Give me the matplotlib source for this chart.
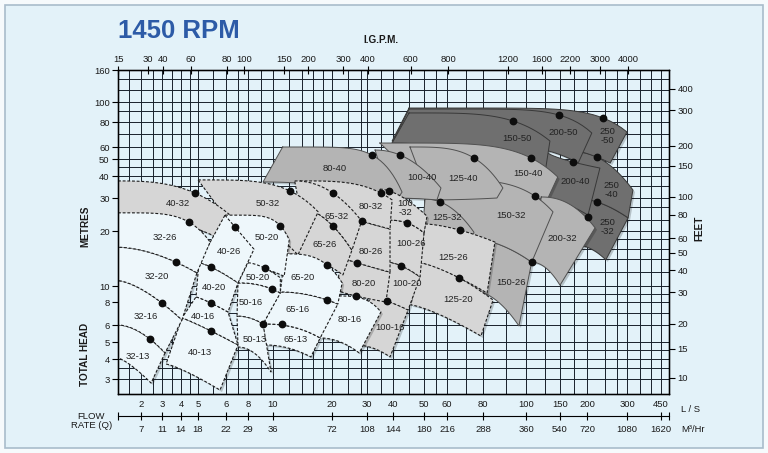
import numpy as np
import matplotlib
matplotlib.use('Agg')
import matplotlib.pyplot as plt
from matplotlib import transforms
from matplotlib.ticker import NullLocator

plt.rcParams['font.family'] = ['Liberation Sans', 'DejaVu Sans']

# flow (L/S) and head (m) scale of the printed chart: value -> position
X_KNOTS = [1.13, 2, 3, 4, 5, 6, 8, 10, 20, 30, 40, 50, 60, 80, 100, 150, 200, 300, 450, 500]
X_KNOT_POS = [118, 141, 162, 181, 198, 226, 248, 273, 332, 367, 393, 424, 447, 483, 526, 560, 587, 627, 661, 669]
Y_KNOTS = [2.42, 3, 4, 5, 6, 8, 10, 20, 30, 40, 50, 60, 80, 100, 160]
Y_KNOT_POS = [394, 379, 359, 342, 325, 302, 286, 231, 198, 176, 159, 147, 122, 102, 70]

LPS_TICKS = [2, 3, 4, 5, 6, 8, 10, 20, 30, 40, 50, 60, 80, 100, 150, 200, 300, 450]
M3HR_LABELS = [7, 11, 14, 18, 22, 29, 36, 72, 108, 144, 180, 216, 288, 360, 540, 720, 1080, 1620]
IGPM_TICKS = [15, 30, 40, 60, 80, 100, 150, 200, 300, 400, 600, 800, 1200, 1600, 2200, 3000, 4000]
METRE_TICKS = [3, 4, 5, 6, 8, 10, 20, 30, 40, 50, 60, 80, 100, 160]
FEET_TICKS = [10, 15, 20, 30, 40, 50, 60, 80, 100, 150, 200, 300, 400]

GRID_LPS = [1.5, 2, 2.5, 3, 3.5, 4, 4.5, 5, 5.5, 6, 7, 8, 9, 10, 12, 14, 16, 18, 20, 24, 28, 30, 35,
            40, 45, 50, 55, 60, 70, 80, 90, 100, 125, 150, 175, 200, 240, 270, 300, 350, 400, 450]
GRID_M = [3, 3.5, 4, 4.5, 5, 6, 7, 8, 9, 10, 12, 14, 16, 18, 20, 23, 27, 30, 35, 40, 45, 50, 60,
          70, 80, 90, 100, 120, 140]

# pump tiles, back to front: name, shade, top curve, bottom curve (L/S, m), duty point, label
TILE_NAMES = ['250\n-32', '250\n-40', '250\n-50', '200-40', '200-50', '150-50',
              '150-40', '200-32', '150-26', '150-32', '125-40', '125-32', '100-40', '80-40',
              '125-20', '125-26', '100-16', '100-20', '100-26', '100\n-32', '80-20', '80-26',
              '80-32', '65-26', '65-32', '50-32', '40-32',
              '80-16', '65-13', '65-16', '65-20', '50-20', '50-13', '50-16', '50-20',
              '40-13', '40-16', '40-20', '40-26', '32-13', '32-16', '32-20', '32-26']
TILE_SHADE = ['dark'] * 6 + ['mid'] * 8 + ['grey'] * 13 + ['light'] * 16

TILE_TOP = [
    [(176, 30), (221, 28.6), (304, 23.5)],
    [(176, 55.6), (221, 51.5), (322, 33.3)],
    [(44.9, 93.5), (235, 83.7), (300, 71.3)],
    [(125, 57.3), (172, 48.1), (228, 44.4)],
    [(44.9, 92.5), (148, 86.5), (210, 70.5)],
    [(44.9, 88.5), (93.5, 80.9), (133, 64.3)],
    [(34.6, 62.8), (106, 50.8), (146, 39.5)],
    [(120, 30.4), (186, 25.3), (217, 20.8)],
    [(56.8, 19), (87.4, 16.8), (107, 13.5)],
    [(56.8, 38), (111, 30.8), (138, 25.3)],
    [(45.2, 60), (74.4, 50.8), (88.7, 34.2)],
    [(50.4, 29.6), (56.8, 28.6), (74.4, 19.7)],
    [(32.8, 57.3), (42.1, 53.1), (57.2, 34.2)],
    [(11.2, 60), (31.7, 53.1), (42.7, 32.4)],
    [(48.6, 13.4), (66, 11.1), (84.3, 8.23)],
    [(50.4, 21.8), (66.6, 20.2), (85.1, 17.4)],
    [(31, 8.46), (37.4, 8.11), (44.6, 7.24)],
    [(37.8, 13.5), (42.4, 12.9), (48.6, 11.2)],
    [(36.6, 22.9), (44.2, 22.1), (50, 19.5)],
    [(34.6, 33.7), (38.3, 32.9), (51.2, 24)],
    [(21.9, 14.4), (26.7, 13.4), (38.7, 11.9)],
    [(21.9, 25.3), (28.2, 22.6), (38.7, 20.5)],
    [(13.7, 37.5), (35, 32), (39.6, 29.3)],
    [(13.7, 26.5), (20.2, 21.3), (25.2, 15.7)],
    [(12.9, 37.5), (20.2, 32), (28.2, 22.6)],
    [(5, 38), (12.2, 32.9), (17, 25.3)],
    [(1.13, 37.5), (4.81, 32), (6.24, 24.6)],
    [(20.5, 8.7), (26.4, 8.58), (35, 7.06)],
    [(9.15, 6.08), (11.1, 6), (17.4, 5.22)],
    [(10.9, 9.2), (18.9, 8.23), (21.4, 7.8)],
    [(11.5, 15), (18.9, 13), (22.5, 10.4)],
    [(5.96, 24.3), (10.9, 21.3), (12.1, 17.9)],
    [(6.93, 6.71), (9.15, 6.08)],
    [(7.02, 10.4), (9.91, 9.59), (10.9, 9.07)],
    [(8, 13.4), (9.31, 12.5), (10.9, 11.1)],
    [(4.05, 6.55), (5.44, 5.63), (7.02, 4.81)],
    [(4.87, 8.58), (5.44, 7.9), (6.16, 7.06)],
    [(5.03, 13.4), (5.44, 12.7), (7.02, 10.4)],
    [(5.96, 24.3), (6.75, 21), (8.44, 15.9)],
    [(1.13, 6), (2.38, 5.16), (3.14, 4.33)],
    [(1.13, 10.7), (3, 7.9), (4.05, 6.39)],
    [(1.13, 16.3), (3.71, 13.5), (4.93, 11.8)],
    [(1.13, 25), (4.44, 22.3), (5.41, 17.4)],
]

TILE_BOTTOM = [
    [(176, 16.8), (242, 13.9)],
    [(176, 30), (221, 28.6), (304, 23.5)],
    [(39.6, 64.3), (221, 51.5), (253, 47.4)],
    [(118, 29.3), (202, 24.3)],
    [(39.6, 62.8), (125, 57.3), (182, 47.4)],
    [(39.6, 62.8), (125, 40.5)],
    [(56.8, 29.3), (130, 30)],
    [(107, 13.5), (150, 10.1)],
    [(72.1, 9.46), (96.4, 5.94)],
    [(56.8, 19), (87.4, 16.8), (107, 13.5)],
    [(52.4, 29.3), (86, 30)],
    [(49.6, 21.3), (73.3, 17.4)],
    [(38.7, 30), (55.4, 29.3)],
    [(9.15, 37), (41.5, 30)],
    [(45.5, 7.71), (60, 6.55), (78.7, 5.33)],
    [(48.6, 13.4), (66, 11.1), (81.7, 9.07)],
    [(26.1, 4.81), (38.7, 4.11)],
    [(33.1, 8.46), (37.4, 8.11), (44.6, 7.24)],
    [(37.8, 13.5), (42.4, 12.9), (48.6, 11.2)],
    [(36.6, 22.9), (44.2, 22.1), (50, 19.5)],
    [(21.4, 9.46), (26.4, 8.7), (37, 8)],
    [(21.9, 14.4), (26.7, 13.4), (38.7, 11.9)],
    [(21.9, 25.3), (28.2, 22.6), (38.7, 20.5)],
    [(11.5, 15), (22.7, 11.5)],
    [(13.7, 26.5), (20.2, 21.3), (25.2, 15.7)],
    [(5.96, 24), (13.4, 14.8)],
    [(1.13, 24.6), (6.49, 16.8)],
    [(17.4, 5.22), (27.4, 4.33)],
    [(9.31, 4.81), (15.6, 4.11)],
    [(9.15, 6.08), (11.1, 6), (17.4, 5.22)],
    [(10.9, 9.2), (18.9, 8.23), (21.4, 7.8)],
    [(7.21, 12.9), (11.4, 11.3)],
    [(7.02, 4.68), (9.82, 3.32)],
    [(6.93, 6.71), (9.15, 6.08)],
    [(7.02, 10.4), (9.91, 9.59), (10.9, 9.07)],
    [(3.19, 3.72), (4.68, 3.18), (5.77, 2.56)],
    [(4.05, 6.55), (5.44, 5.63), (7.02, 4.81)],
    [(4.87, 8.58), (5.44, 7.9), (6.16, 7.06)],
    [(5.03, 13.4), (5.44, 12.7), (7.02, 10.4)],
    [(1.13, 4.05), (1.81, 3.41), (2.43, 2.83)],
    [(1.13, 6), (2.38, 5.16), (3.14, 4.33)],
    [(1.13, 10.7), (3, 7.9), (4.05, 6.39)],
    [(1.13, 16.3), (3.71, 13.5), (4.93, 11.8)],
]

TILE_DOT = [(221, 28.6), (221, 51.5), (235, 83.7), (172, 48.1), (148, 86.5), (93.5, 80.9),
            (106, 50.8), (202, 23.8), (107, 13.5), (111, 30.8), (74.4, 50.8), (56.8, 28.6),
            (42.1, 53.1), (31.7, 53.1),
            (66, 11.1), (66.6, 20.2), (37.4, 8.11), (42.4, 12.9), (44.2, 22.1), (38.3, 32.9),
            (26.7, 13.4), (28.2, 22.6), (35, 32), (20.2, 21.3), (20.2, 32), (12.2, 32.9), (4.81, 32),
            (26.4, 8.7), (11.1, 6.08), (18.9, 8.23), (18.9, 13), (10.9, 21.3), (9.15, 6.08),
            (9.91, 9.59), (9.31, 12.5), (5.44, 5.63), (5.44, 7.9), (5.44, 12.7), (6.75, 21),
            (2.38, 5.16), (3, 7.9), (3.71, 13.5), (4.44, 22.3)]

TILE_LABEL_AT = [(247, 21), (255, 33.3), (245, 68.1), (176, 37), (155, 71.3), (95.4, 66.5),
                 (102, 41.6), (153, 18.3), (92.5, 10.5), (92.5, 24.3), (68.2, 38.5), (60, 23.5),
                 (49.3, 39), (20.7, 44.4),
                 (65.5, 8.34), (62.9, 14.4), (38.7, 5.87), (44.2, 10.3), (45.5, 17), (43.6, 26.5),
                 (29, 10.3), (31.4, 15.5), (31.4, 26.9), (18.4, 16.8), (21.2, 24), (9.56, 28.2),
                 (3.82, 28.2),
                 (24.6, 6.39), (13.1, 5.11), (13.4, 7.24), (14.1, 11.2), (9.48, 18.5), (8.52, 5.11),
                 (8.22, 8), (8.75, 11.1), (5.07, 4.33), (5.17, 6.71), (5.55, 9.86), (6.24, 15.5),
                 (1.86, 4.16), (2.2, 6.71), (2.72, 11.3), (3.14, 18.5)]

SHADES = {
    'dark': dict(fc='#6f6f6f', ec='#383838', ls='-', lw=0.7),
    'mid': dict(fc='#b4b4b4', ec='#505050', ls='-', lw=0.7),
    'grey': dict(fc='#d6d6d6', ec='#1c1c1c', ls=(0, (2.6, 1.6)), lw=0.8),
    'light': dict(fc='#eef7fb', ec='#1c1c1c', ls=(0, (2.6, 1.6)), lw=0.8),
}

lxk = np.log10(X_KNOTS)
lyk = np.log10(Y_KNOTS)
xkp = np.array(X_KNOT_POS, float)
ykp = -np.array(Y_KNOT_POS, float)


def fwd_x(v):
    return np.interp(np.log10(np.clip(np.asarray(v, float), 1e-6, None)), lxk, xkp)


def inv_x(p):
    return 10 ** np.interp(p, xkp, lxk)


def fwd_y(v):
    return np.interp(np.log10(np.clip(np.asarray(v, float), 1e-6, None)), lyk, ykp)


def inv_y(p):
    return 10 ** np.interp(p, ykp, lyk)


def edge(points, n=40):
    q = np.array([p[0] for p in points], float)
    h = np.array([p[1] for p in points], float)
    X, Y = fwd_x(q), fwd_y(h)
    power = 2.0
    if len(points) == 3:
        tm = (X[1] - X[0]) / (X[2] - X[0])
        fr = (Y[1] - Y[0]) / (Y[2] - Y[0])
        if 0 < tm < 1 and 0 < fr < 1:
            power = np.log(fr) / np.log(tm)
    t = np.linspace(0, 1, n)
    return inv_x(X[0] + t * (X[-1] - X[0])), inv_y(Y[0] + t ** power * (Y[-1] - Y[0]))


W, H = 768, 453
fig = plt.figure(figsize=(W / 100, H / 100), dpi=100)
fig.patch.set_facecolor('#f6fafc')
fig.add_artist(plt.Rectangle((5 / W, 5 / H), 758 / W, 443 / H, transform=fig.transFigure,
                             facecolor='#e3f2f9', edgecolor='#a9bccb', lw=1.2, zorder=-1))

ax = fig.add_axes([118 / W, 59 / H, 551 / W, 324 / H])
ax.set_facecolor('none')
ax.set_xscale('function', functions=(fwd_x, inv_x))
ax.set_yscale('function', functions=(fwd_y, inv_y))
ax.set_xlim(1.13, 500)
ax.set_ylim(2.42, 160)

for v in GRID_LPS:
    ax.axvline(v, color='#18202a', lw=0.7, zorder=1)
for v in GRID_M:
    ax.axhline(v, color='#18202a', lw=0.7, zorder=1)

shadow = ax.transData + transforms.ScaledTranslation(0.02, -0.02, fig.dpi_scale_trans)
z = 2
for shade in ['dark', 'mid', 'grey', 'light']:
    idx = [i for i, s in enumerate(TILE_SHADE) if s == shade]
    polys = {}
    for i in idx:
        qt, ht = edge(TILE_TOP[i])
        qb, hb = edge(TILE_BOTTOM[i])
        polys[i] = (np.r_[qt, qb[::-1]], np.r_[ht, hb[::-1]])
    for i in idx:
        ax.fill(*polys[i], facecolor='black', alpha=0.2, edgecolor='none',
                transform=shadow, zorder=z)
    z += 1
    st = SHADES[shade]
    for i in idx:
        q, h = polys[i]
        ax.fill(q, h, facecolor=st['fc'], edgecolor='none', zorder=z)
        ax.plot(np.r_[q, q[:1]], np.r_[h, h[:1]], color=st['ec'], lw=st['lw'], ls=st['ls'],
                zorder=z + 0.5)
        z += 1

ax.plot([d[0] for d in TILE_DOT], [d[1] for d in TILE_DOT], 'o', ms=4.6, color='#0d0d0d',
        zorder=z + 1)
for name, (q, h) in zip(TILE_NAMES, TILE_LABEL_AT):
    ax.text(q, h, name, ha='center', va='center', fontsize=6.8, color='#222222',
            linespacing=0.95, zorder=z + 2)

for s in ax.spines.values():
    s.set_linewidth(1.0)
    s.set_zorder(z + 3)

ax.set_xticks(LPS_TICKS)
ax.set_xticklabels([str(v) for v in LPS_TICKS])
ax.set_yticks(METRE_TICKS)
ax.set_yticklabels([str(v) for v in METRE_TICKS])
ax.xaxis.set_minor_locator(NullLocator())
ax.yaxis.set_minor_locator(NullLocator())
ax.tick_params(axis='x', length=0, pad=4.5, labelsize=6.8, labelcolor='#1a1a1a')
ax.tick_params(axis='y', direction='out', length=4, width=0.8, pad=2, labelsize=6.8,
               labelcolor='#1a1a1a')

top_ax = ax.twiny()
top_ax.set_xscale('function', functions=(fwd_x, inv_x))
top_ax.set_xlim(ax.get_xlim())
top_ax.set_xticks([v / 13.2 for v in IGPM_TICKS])
top_ax.set_xticklabels([str(v) for v in IGPM_TICKS])
top_ax.xaxis.set_minor_locator(NullLocator())
top_ax.tick_params(axis='x', direction='inout', length=6, width=0.8, pad=1.5, labelsize=6.8,
                   labelcolor='#1a1a1a')

right_ax = ax.twinx()
right_ax.set_yscale('function', functions=(fwd_y, inv_y))
right_ax.set_ylim(ax.get_ylim())
right_ax.set_yticks([v / 3.2808 for v in FEET_TICKS])
right_ax.set_yticklabels([str(v) for v in FEET_TICKS])
right_ax.yaxis.set_minor_locator(NullLocator())
right_ax.tick_params(axis='y', direction='out', length=4, width=0.8, pad=2, labelsize=6.8,
                     labelcolor='#1a1a1a')

flow_ax = ax.twiny()
flow_ax.set_xscale('function', functions=(fwd_x, inv_x))
flow_ax.set_xlim(ax.get_xlim())
flow_ax.xaxis.set_ticks_position('bottom')
flow_ax.xaxis.set_label_position('bottom')
flow_ax.spines['bottom'].set_position(('axes', -22 / 324))
for s in ['top', 'left', 'right']:
    flow_ax.spines[s].set_visible(False)
flow_ax.set_xticks([1.135] + LPS_TICKS + [498])
flow_ax.set_xticklabels([''] + [str(v) for v in M3HR_LABELS] + [''])
flow_ax.xaxis.set_minor_locator(NullLocator())
flow_ax.tick_params(axis='x', direction='inout', length=6, width=0.8, pad=3.5, labelsize=6.8,
                    labelcolor='#1a1a1a')

fig.text(118 / W, 1 - 31 / H, '1450 RPM', fontsize=18.5, fontweight='bold', color='#2d5ba7',
         ha='left', va='center')
fig.text(381 / W, 1 - 40 / H, 'I.G.P.M.', fontsize=7.2, fontweight='bold', ha='center',
         va='center', color='#1a1a1a')
fig.text(85 / W, 1 - 226 / H, 'METRES', fontsize=7.2, fontweight='bold', rotation=90,
         ha='center', va='center', color='#1a1a1a')
fig.text(85 / W, 1 - 354 / H, 'TOTAL HEAD', fontsize=7.2, fontweight='bold', rotation=90,
         ha='center', va='center', color='#1a1a1a')
fig.text(699 / W, 1 - 228 / H, 'FEET', fontsize=7.2, fontweight='bold', rotation=90,
         ha='center', va='center', color='#1a1a1a')
fig.text(112 / W, 1 - 421 / H, 'FLOW\nRATE (Q)', fontsize=6.8, ha='right', va='center',
         multialignment='center', linespacing=1.05, color='#1a1a1a')
fig.text(681 / W, 1 - 410 / H, 'L / S', fontsize=6.8, ha='left', va='center', color='#1a1a1a')
fig.text(681 / W, 1 - 430 / H, 'M\u00b3/Hr', fontsize=6.8, ha='left', va='center',
         color='#1a1a1a')

fig.savefig('out.png', dpi=100, facecolor=fig.get_facecolor())
